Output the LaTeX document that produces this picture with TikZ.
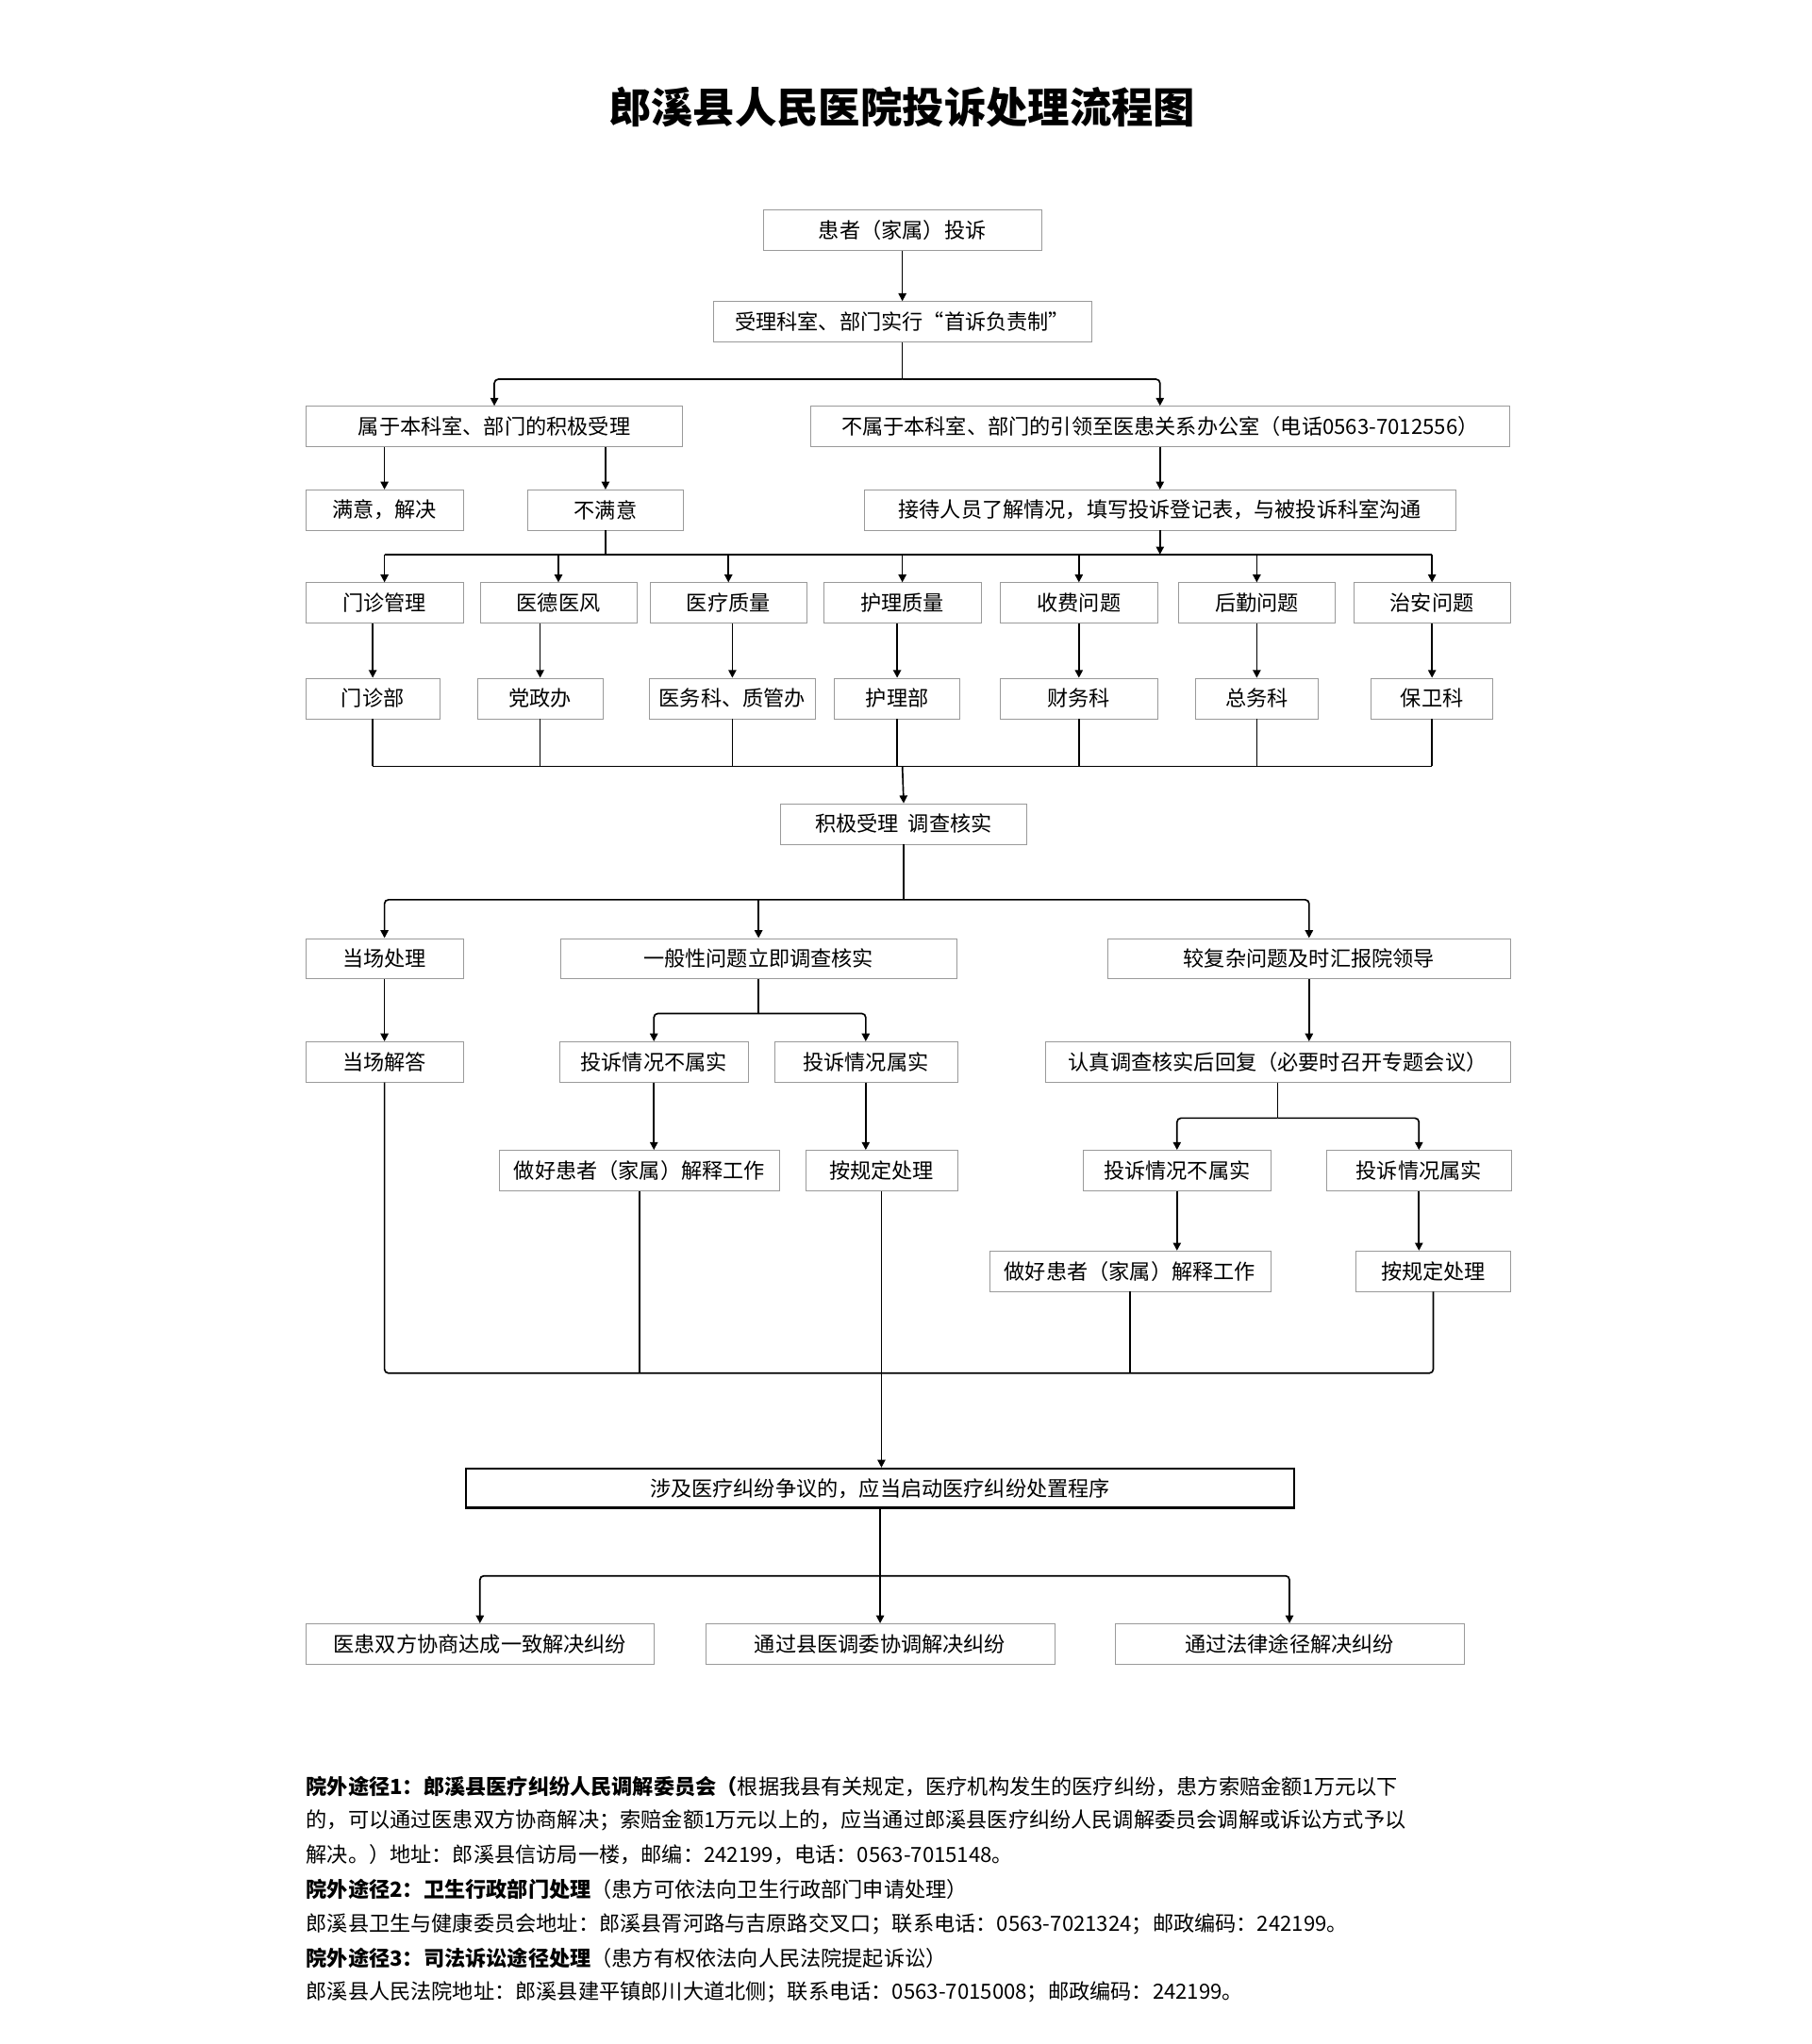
\documentclass[tikz,border=0pt]{standalone}
\usepackage{fontspec}
\setmainfont{Noto Sans CJK SC}
\usetikzlibrary{arrows.meta}
\usetikzlibrary{positioning}
\usepackage{xcolor}
\definecolor{boxgray}{HTML}{9A9A9A}
\begin{document}
\begin{tikzpicture}[x=1pt,y=-1pt]
		\tikzstyle{block} = [rectangle, draw=boxgray, fill=white, font=\fontsize{16}{18}\selectfont,
		minimum height=31pt, inner sep=1pt]
		\tikzstyle{line} = [draw, line width=1.2pt, rounded corners=3pt]
		\tikzstyle{arr} = [line, -{Triangle[length=6pt, width=6pt]}]
		\tikzstyle{note} = [anchor=west, inner sep=0pt, font=\fontsize{16}{18}\selectfont]
		\useasboundingbox (0,0) rectangle (1385,1563);

		% title
		\node[font=\fontsize{32}{36}\selectfont\bfseries] (title) at (690,82) {郎溪县人民医院投诉处理流程图};

		% complaint intake
		\node [block, minimum width=213pt] (a1) at (690,176) {患者（家属）投诉};
		\node [block, minimum width=289pt] (a2) at (690,246) {受理科室、部门实行“首诉负责制”};
		\node [block, minimum width=288pt] (a3a) at (378,326) {属于本科室、部门的积极受理};
		\node [block, minimum width=535pt] (a3b) at (887,326) {不属于本科室、部门的引领至医患关系办公室（电话0563-7012556）};
		\node [block, minimum width=120pt] (a4a) at (294,390) {满意，解决};
		\node [block, minimum width=119pt] (a4b) at (463,390) {不满意};
		\node [block, minimum width=452pt] (a4c) at (887,390) {接待人员了解情况，填写投诉登记表，与被投诉科室沟通};

		% categories
		\node [block, minimum width=120pt] (c1) at (294,461) {门诊管理};
		\node [block, minimum width=120pt] (c2) at (427,461) {医德医风};
		\node [block, minimum width=120pt] (c3) at (557,461) {医疗质量};
		\node [block, minimum width=120pt] (c4) at (690,461) {护理质量};
		\node [block, minimum width=120pt] (c5) at (825,461) {收费问题};
		\node [block, minimum width=120pt] (c6) at (961,461) {后勤问题};
		\node [block, minimum width=120pt] (c7) at (1095,461) {治安问题};

		% departments
		\node [block, minimum width=102pt] (d1) at (285,534) {门诊部};
		\node [block, minimum width=96pt] (d2) at (413,534) {党政办};
		\node [block, minimum width=127pt] (d3) at (560,534) {医务科、质管办};
		\node [block, minimum width=96pt] (d4) at (686,534) {护理部};
		\node [block, minimum width=120pt] (d5) at (825,534) {财务科};
		\node [block, minimum width=94pt] (d6) at (961,534) {总务科};
		\node [block, minimum width=93pt] (d7) at (1095,534) {保卫科};

		\node [block, minimum width=188pt] (b1) at (691,630) {积极受理\ \ 调查核实};

		% handling
		\node [block, minimum width=120pt] (e1) at (294,733) {当场处理};
		\node [block, minimum width=303pt] (e2) at (580,733) {一般性问题立即调查核实};
		\node [block, minimum width=308pt] (e3) at (1001,733) {较复杂问题及时汇报院领导};
		\node [block, minimum width=120pt] (f1) at (294,812) {当场解答};
		\node [block, minimum width=144pt] (f2) at (500,812) {投诉情况不属实};
		\node [block, minimum width=140pt] (f3) at (662,812) {投诉情况属实};
		\node [block, minimum width=356pt] (f4) at (977,812) {认真调查核实后回复（必要时召开专题会议）};
		\node [block, minimum width=214pt] (g1) at (489,895) {做好患者（家属）解释工作};
		\node [block, minimum width=116pt] (g2) at (674,895) {按规定处理};
		\node [block, minimum width=144pt] (g3) at (900,895) {投诉情况不属实};
		\node [block, minimum width=141pt] (g4) at (1085,895) {投诉情况属实};
		\node [block, minimum width=215pt] (h1) at (864,972) {做好患者（家属）解释工作};
		\node [block, minimum width=118pt] (h2) at (1096,972) {按规定处理};

		\node [block, draw=black, line width=1.6pt, minimum width=633pt, minimum height=30pt] (k1) at (673,1138) {涉及医疗纠纷争议的，应当启动医疗纠纷处置程序};
		\node [block, minimum width=266pt] (m1) at (367,1257) {医患双方协商达成一致解决纠纷};
		\node [block, minimum width=267pt] (m2) at (673,1257) {通过县医调委协调解决纠纷};
		\node [block, minimum width=267pt] (m3) at (986,1257) {通过法律途径解决纠纷};

		% junctions
		\coordinate (j1) at (690,290);
		\coordinate (j2) at (463,358);
		\coordinate (j3) at (887,424);
		\coordinate (j4) at (690,586);
		\coordinate (j5) at (691,688);
		\coordinate (j6) at (580,775);
		\coordinate (j7) at (977,855);
		\coordinate (j8) at (674,1050);
		\coordinate (j9) at (673,1205);

		% arrows
		\draw [arr] (a1.south) -- (a2.north);
		\draw [line] (a2.south) -- (j1);
		\draw [arr] (j1) -| (a3a.north);
		\draw [arr] (j1) -| (a3b.north);
		\draw [arr] (a3a.south -| a4a) -- (a4a.north);
		\draw [arr] (a3a.south -| a4b) -- (a4b.north);
		\draw [arr] (a3b.south) -- (a4c.north);
		\draw [arr] (a4c.south) -- (j3);
		\draw [line] (a4b.south) -- (a4b.south |- j3);
		\draw [line] (c1.north |- j3) -- (c7.north |- j3);
		\foreach \c in {c1,c2,c3,c4,c5,c6,c7}
			\draw [arr] (\c.north |- j3) -- (\c.north);
		\foreach \c/\d in {c1/d1,c2/d2,c3/d3,c4/d4,c5/d5,c6/d6,c7/d7}
			\draw [arr] (\c.south -| \d) -- (\d.north);
		\foreach \d in {d1,d2,d3,d4,d5,d6,d7}
			\draw [line] (\d.south) -- (\d.south |- j4);
		\draw [line] (d1.south |- j4) -- (d7.south |- j4);
		\draw [arr] (j4) -- (b1.north);
		\draw [line] (b1.south) -- (j5);
		\draw [arr] (j5) -| (e1.north);
		\draw [arr] (j5) -| (e3.north);
		\draw [arr] (e2.north |- j5) -- (e2.north);
		\draw [arr] (e1.south) -- (f1.north);
		\draw [line] (e2.south) -- (j6);
		\draw [arr] (j6) -| (f2.north);
		\draw [arr] (j6) -| (f3.north);
		\draw [arr] (e3.south -| e3) -- (f4.north -| e3);
		\draw [arr] (f2.south) -- (f2.south |- g1.north);
		\draw [arr] (f3.south) -- (f3.south |- g2.north);
		\draw [line] (f4.south) -- (j7);
		\draw [arr] (j7) -| (g3.north);
		\draw [arr] (j7) -| (g4.north);
		\draw [arr] (g3.south) -- (g3.south |- h1.north);
		\draw [arr] (g4.south) -- (g4.south |- h2.north);
		\draw [line] (f1.south) |- (j8);
		\draw [line] (g1.south) -- (g1.south |- j8);
		\draw [line] (h1.south) -- (h1.south |- j8);
		\draw [line] (h2.south) |- (j8);
		\draw [arr] (g2.south) -- (k1.north -| g2);
		\draw [line] (k1.south) -- (j9);
		\draw [arr] (j9) -| (m1.north);
		\draw [arr] (j9) -| (m3.north);
		\draw [arr] (j9) -- (m2.north);

		% notes
		\node [note] (n1) at (234,1366) {\textbf{院外途径1：郎溪县医疗纠纷人民调解委员会（}根据我县有关规定，医疗机构发生的医疗纠纷，患方索赔金额1万元以下};
		\node [note] (n2) at (234,1392) {的，可以通过医患双方协商解决；索赔金额1万元以上的，应当通过郎溪县医疗纠纷人民调解委员会调解或诉讼方式予以};
		\node [note] (n3) at (234,1418) {解决。）地址：郎溪县信访局一楼，邮编：242199，电话：0563-7015148。};
		\node [note] (n4) at (234,1445) {\textbf{院外途径2：卫生行政部门处理}（患方可依法向卫生行政部门申请处理）};
		\node [note] (n5) at (234,1471) {郎溪县卫生与健康委员会地址：郎溪县胥河路与吉原路交叉口；联系电话：0563-7021324；邮政编码：242199。};
		\node [note] (n6) at (234,1497) {\textbf{院外途径3：司法诉讼途径处理}（患方有权依法向人民法院提起诉讼）};
		\node [note] (n7) at (234,1523) {郎溪县人民法院地址：郎溪县建平镇郎川大道北侧；联系电话：0563-7015008；邮政编码：242199。};
	\end{tikzpicture}
\end{document}
